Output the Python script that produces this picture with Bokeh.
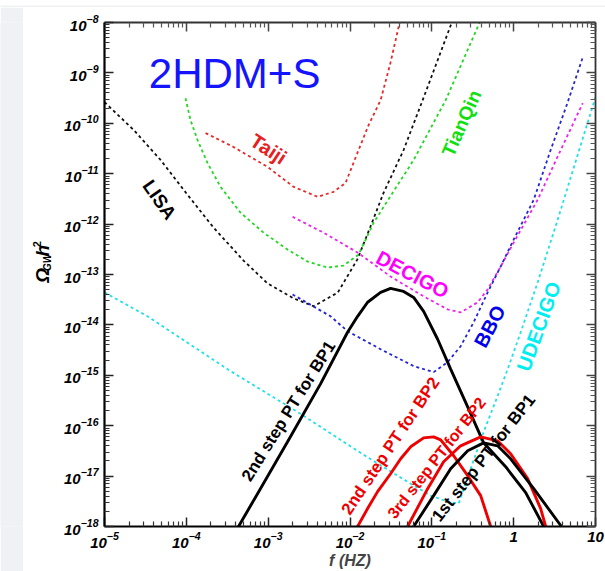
import numpy as np
from bokeh.plotting import figure
from bokeh.models import LogAxis, FixedTicker, Label, Range1d, CustomJSTickFormatter
from bokeh.layouts import row, column
from bokeh.embed import file_html
from bokeh.resources import INLINE

# ---------------- data (as log10 values) ----------------
# detector sensitivity curves: log10(f / Hz) and log10(Omega_GW h^2)
LISA_LOGF = [-5.0, -4.645, -4.315, -3.985, -3.667, -3.301, -3.007, -2.689, -2.445, -2.15,
             -1.91, -1.75, -1.59, -1.345, -1.112, -0.77, -0.733]
LISA_LOGO = [-9.58, -10.13, -10.727, -11.419, -12.071, -12.723, -13.178, -13.474, -13.63, -13.36,
             -12.70, -12.05, -11.38, -10.53, -9.54, -8.06, -7.90]

TIANQIN_LOGF = [-4.010, -3.949, -3.863, -3.741, -3.582, -3.337, -3.056, -2.763, -2.518, -2.274,
                -2.078, -1.895, -1.711, -1.479, -1.222, -0.831, -0.416]
TIANQIN_LOGO = [-9.502, -9.937, -10.332, -10.787, -11.261, -11.775, -12.170, -12.506, -12.743, -12.862,
                -12.822, -12.605, -11.972, -11.379, -10.727, -9.542, -8.0]

TAIJI_LOGF = [-3.765, -3.423, -3.007, -2.689, -2.396, -2.200, -2.054, -1.895, -1.773, -1.626, -1.504, -1.394]
TAIJI_LOGO = [-10.194, -10.470, -10.866, -11.261, -11.458, -11.360, -11.182, -10.530, -10.036, -9.542, -8.791, -8.0]

DECIGO_LOGF = [-2.702, -2.323, -1.907, -1.504, -1.100, -0.807, -0.648, -0.440, -0.318, -0.159,
               0.0, 0.293, 0.575, 0.844]
DECIGO_LOGO = [-11.854, -12.170, -12.565, -13.040, -13.435, -13.692, -13.751, -13.553, -13.296, -12.842,
               -12.368, -11.518, -10.530, -9.601]

BBO_LOGF = [-2.702, -2.237, -2.029, -1.626, -1.222, -0.978, -0.807, -0.648, -0.489, -0.318,
            -0.159, 0.0, 0.245, 0.452, 0.648, 0.844]
BBO_LOGO = [-13.395, -13.830, -14.126, -14.482, -14.818, -14.937, -14.739, -14.423, -13.949, -13.356,
            -12.842, -12.308, -11.518, -10.530, -9.640, -8.692]

UDECIGO_LOGF = [-5.0, -4.474, -3.460, -2.641, -1.834, -1.259, -1.015, -0.807, -0.672, -0.526,
                -0.367, -0.196, -0.073, 0.086, 0.293, 0.538, 0.782, 1.0]
UDECIGO_LOGO = [-13.356, -13.830, -14.917, -15.727, -16.577, -17.150, -17.387, -17.506, -17.545, -16.854,
                -16.123, -15.411, -14.877, -14.146, -13.158, -11.913, -10.628, -9.482]

# signal spectra
BP1_STEP2_LOGF = [-3.44, -3.362, -2.763, -2.36, -2.03, -1.907, -1.785, -1.626, -1.504, -1.345,
                  -1.222, -1.100, -0.929, -0.770, -0.562, -0.367, -0.098, 0.147, 0.367, 0.428]
BP1_STEP2_LOGO = [-18.22, -18.0, -16.32, -15.17, -14.146, -13.83, -13.55, -13.356, -13.277, -13.336,
                  -13.455, -13.731, -14.285, -14.877, -15.628, -16.340, -16.814, -17.328, -18.0, -18.20]

BP1_STEP1_LOGF = [-1.296, -1.222, -0.978, -0.770, -0.562, -0.367, -0.196, -0.037, 0.245, 0.575, 0.648]
BP1_STEP1_LOGO = [-18.20, -18.0, -17.387, -16.854, -16.498, -16.340, -16.399, -16.656, -17.249, -17.980, -18.16]

BP2_STEP3_LOGF = [-1.345, -1.296, -1.051, -0.856, -0.648, -0.403, -0.196, -0.037, 0.171, 0.330, 0.391, 0.428]
BP2_STEP3_LOGO = [-18.20, -18.0, -17.249, -16.715, -16.399, -16.221, -16.300, -16.557, -17.051, -17.644, -18.0, -18.20]

BP2_STEP2_LOGF = [-1.968, -1.907, -1.785, -1.663, -1.504, -1.381, -1.259, -1.100, -0.978, -0.892,
                  -0.733, -0.562, -0.403, -0.281, -0.257]
BP2_STEP2_LOGO = [-18.20, -18.0, -17.644, -17.308, -16.953, -16.656, -16.419, -16.241, -16.221, -16.281,
                  -16.597, -16.992, -17.387, -18.0, -18.20]

X_MAJOR = [1e-5, 1e-4, 1e-3, 1e-2, 1e-1, 1.0, 10.0]
Y_MAJOR = [1e-18, 1e-17, 1e-16, 1e-15, 1e-14, 1e-13, 1e-12, 1e-11, 1e-10, 1e-9, 1e-8]
X_LABEL_OVERRIDES = {1: "1", 10: "10"}

X_MINOR = [k * 10.0 ** n for n in range(-5, 1) for k in range(2, 10)]
Y_MINOR = [k * 10.0 ** n for n in range(-18, -8) for k in range(2, 10)]


def pw(a):
    return 10.0 ** np.array(a)


# ---------------- figure ----------------
FONT = "Liberation Sans"
STRIP = "#eff1f4"
H = 564

p = figure(width=550, height=H, x_axis_type="log", y_axis_type="log",
           x_range=Range1d(1e-5, 10), y_range=Range1d(1e-18, 1e-8),
           toolbar_location=None, output_backend="svg",
           min_border_left=49, min_border_right=10, min_border_top=15, min_border_bottom=43,
           background_fill_color="white", border_fill_color="white")
p.outline_line_color = None
p.xgrid.visible = False
p.ygrid.visible = False

p.xaxis.ticker = FixedTicker(ticks=X_MAJOR, minor_ticks=X_MINOR)
p.yaxis.ticker = FixedTicker(ticks=Y_MAJOR, minor_ticks=Y_MINOR)
p.xaxis.major_label_overrides = X_LABEL_OVERRIDES

for ax in (p.xaxis[0], p.yaxis[0]):
    ax.axis_line_width = 2.2
    ax.axis_line_color = "black"
    ax.major_tick_in = 9
    ax.major_tick_out = 0
    ax.minor_tick_in = 5
    ax.minor_tick_out = 0
    ax.major_tick_line_width = 1.5
    ax.minor_tick_line_width = 1.2
    ax.major_tick_line_color = "#222222"
    ax.minor_tick_line_color = "#333333"
    ax.major_label_text_font = FONT
    ax.major_label_text_font_style = "bold italic"
    ax.major_label_text_font_size = "15px"
    ax.major_label_text_color = "black"
p.xaxis.major_label_standoff = 5
p.yaxis.major_label_standoff = 6
p.xaxis.axis_label = "f (HZ)"
p.xaxis.axis_label_text_font = FONT
p.xaxis.axis_label_text_font_style = "bold italic"
p.xaxis.axis_label_text_font_size = "16px"
p.xaxis.axis_label_standoff = 1

blank = CustomJSTickFormatter(code="return ''")
top = LogAxis(ticker=FixedTicker(ticks=X_MAJOR, minor_ticks=X_MINOR), formatter=blank)
right = LogAxis(ticker=FixedTicker(ticks=Y_MAJOR, minor_ticks=Y_MINOR), formatter=blank)
for ax in (top, right):
    ax.axis_line_width = 1.8
    ax.axis_line_color = "#333333"
    ax.major_tick_in = 9
    ax.major_tick_out = 0
    ax.minor_tick_in = 5
    ax.minor_tick_out = 0
    ax.major_tick_line_width = 1.5
    ax.minor_tick_line_width = 1.2
    ax.major_tick_line_color = "#444444"
    ax.minor_tick_line_color = "#555555"
    ax.major_label_standoff = 0
p.add_layout(top, "above")
p.add_layout(right, "right")

# ---------------- sensitivity curves ----------------
DASH = "3 3"
p.line(pw(LISA_LOGF), pw(LISA_LOGO), line_color="#111111", line_width=1.8, line_dash=DASH)
p.line(pw(TIANQIN_LOGF), pw(TIANQIN_LOGO), line_color="#22d822", line_width=1.8, line_dash=DASH)
p.line(pw(TAIJI_LOGF), pw(TAIJI_LOGO), line_color="#e62a2a", line_width=1.8, line_dash=DASH)
p.line(pw(DECIGO_LOGF), pw(DECIGO_LOGO), line_color="#ee22ee", line_width=1.8, line_dash=DASH)
p.line(pw(BBO_LOGF), pw(BBO_LOGO), line_color="#2525d5", line_width=1.8, line_dash=DASH)
p.line(pw(UDECIGO_LOGF), pw(UDECIGO_LOGO), line_color="#22e0e6", line_width=1.8, line_dash=DASH)

# ---------------- signal curves ----------------
p.line(pw(BP1_STEP2_LOGF), pw(BP1_STEP2_LOGO), line_color="black", line_width=2.9)
p.line(pw(BP2_STEP2_LOGF), pw(BP2_STEP2_LOGO), line_color="#ee0000", line_width=2.9)
p.line(pw(BP2_STEP3_LOGF), pw(BP2_STEP3_LOGO), line_color="#ee0000", line_width=2.9)
p.line(pw(BP1_STEP1_LOGF), pw(BP1_STEP1_LOGO), line_color="black", line_width=2.9)


def lab(fig, text, x, y, angle, color, size, style="bold"):
    fig.add_layout(Label(x=x, y=y, text=text, angle=angle, angle_units="deg",
                         text_align="center", text_baseline="middle", text_font=FONT,
                         text_font_size=size, text_font_style=style, text_color=color))


# curve labels (positions given as log10 coordinates)
CURVE_LABELS = [
    ("LISA", -4.328, -11.518, -55, "black", "19px"),
    ("Taiji", -2.995, -10.51, -33, "#e62020", "20px"),
    ("TianQin", -0.636, -9.996, 66, "#10e010", "19px"),
    ("DECIGO", -1.235, -13.0, -28, "#ff00ff", "20px"),
    ("BBO", -0.293, -14.03, 62, "#0000ee", "20px"),
    ("UDECIGO", 0.306, -14.03, 70, "#00eef0", "20px"),
    ("2nd step PT for BP1", -2.751, -15.71, 58, "black", "17px"),
    ("2nd step PT for BP2", -1.504, -16.40, 56, "#ee0000", "17px"),
    ("3rd step PT for BP2", -0.941, -16.64, 52, "#ee0000", "16px"),
    ("1st step PT for BP1", -0.367, -16.64, 52, "black", "17px"),
]
for text, lf, lo, ang, col, size in CURVE_LABELS:
    lab(p, text, 10.0 ** lf, 10.0 ** lo, ang, col, size)

# title inside the frame
lab(p, "2HDM+S", 10.0 ** -3.41, 10.0 ** -9.01, 0, "#1414ff", "42px", style="normal")

# ---------------- y axis title panel ----------------
ylab = figure(width=32, height=H, x_range=Range1d(0, 32), y_range=Range1d(0, H),
              toolbar_location=None, output_backend="svg", min_border=0,
              background_fill_color="white", border_fill_color="white")
ylab.outline_line_color = None
ylab.axis.visible = False
ylab.grid.visible = False
lab(ylab, "\u03a9", 18.5, 281.0, 90, "black", "19px", style="bold italic")
lab(ylab, "GW", 23.5, 295.5, 90, "black", "10px", style="bold italic")
lab(ylab, "h", 18.5, 308.5, 90, "black", "19px", style="bold italic")
lab(ylab, "2", 13.5, 316, 90, "black", "11px", style="bold")


# grey page strips (top and left)
def strip(w, h):
    s = figure(width=w, height=h, toolbar_location=None, output_backend="svg",
               min_border=0, background_fill_color=STRIP, border_fill_color=STRIP)
    s.outline_line_color = None
    s.axis.visible = False
    s.grid.visible = False
    return s


layout = column(strip(605, 7), row(strip(23, H), ylab, p))
open("out.html", "w").write(file_html(layout, INLINE))
